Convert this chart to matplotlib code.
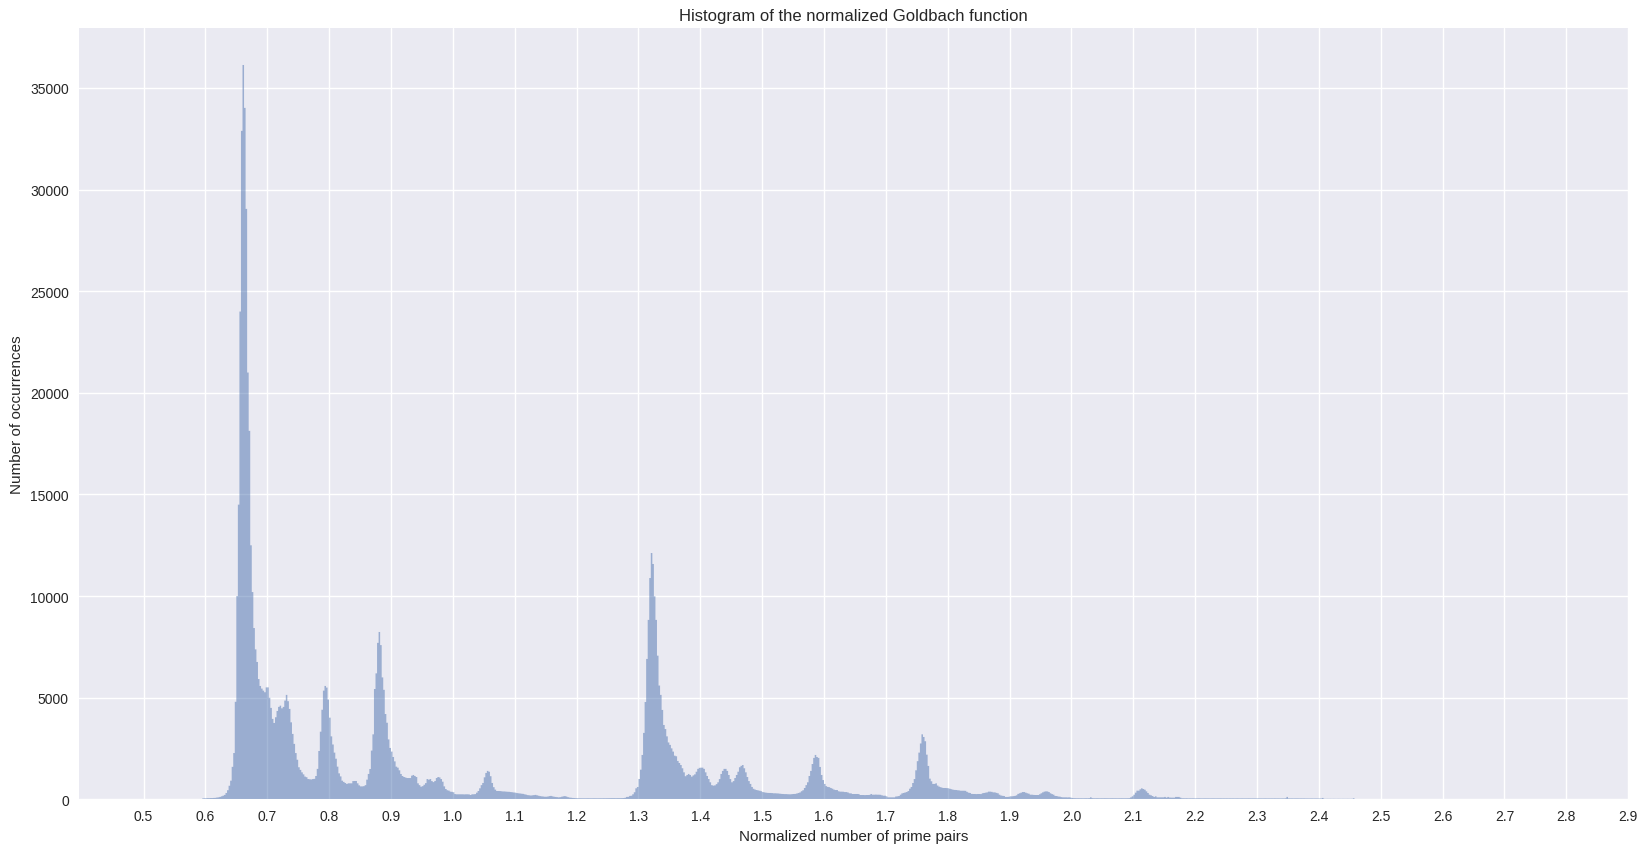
import numpy as np
import matplotlib
matplotlib.use("Agg")
import matplotlib.pyplot as plt
from matplotlib.ticker import FormatStrFormatter

# ==============================
# DATA (bin counts, bin width 0.0025 from 0.595)
# ==============================

BIN_START = 0.595
BIN_WIDTH = 0.0025

seg_a = [50, 55, 55, 60, 60, 65, 65, 70, 75, 90,
         100, 120, 150, 180, 220, 315, 450, 670, 920, 1600,
         2280, 4800, 10000, 14500, 24000, 32890, 36130, 34020, 29050, 21000,
         18130, 12500, 10200, 8430, 7380, 6760, 5920, 5580, 5450, 5350]
seg_b = [5270, 5510, 5510, 5000, 4500, 3960, 3760, 4040, 4350, 4550,
         4610, 4480, 4550, 4860, 5140, 4830, 4450, 3790, 3220, 2730,
         2280, 1950, 1580, 1450, 1330, 1230, 1120, 1090, 1000, 990,
         980, 1000, 1010, 1150, 1500, 2380, 3330, 4410, 5350, 5580]
seg_c = [5500, 4910, 4020, 3100, 2700, 2300, 2000, 1610, 1280, 1130,
         920, 860, 807, 760, 790, 790, 790, 900, 905, 905,
         790, 690, 640, 640, 650, 700, 970, 1250, 1495, 2400,
         3200, 5430, 6200, 7700, 8235, 7590, 6000, 5390, 4200, 3770]
seg_d = [2950, 2530, 2350, 2085, 1870, 1610, 1560, 1430, 1250, 1150,
         1100, 1075, 1050, 1050, 1050, 1165, 1200, 1150, 1100, 790,
         700, 625, 650, 720, 800, 1000, 970, 1000, 900, 850,
         905, 1050, 1100, 1080, 1000, 870, 640, 510, 450, 430]
seg_e = [380, 370, 350, 260, 250, 250, 250, 250, 250, 245,
         250, 250, 245, 215, 250, 250, 260, 330, 413, 545,
         700, 807, 1085, 1300, 1400, 1360, 1140, 807, 600, 480,
         413, 413, 410, 400, 390, 390, 380, 375, 370, 360]
seg_f = [350, 340, 330, 310, 300, 290, 280, 270, 250, 230,
         210, 200, 190, 200, 210, 220, 200, 180, 160, 150,
         140, 130, 130, 140, 160, 170, 150, 130, 120, 110,
         100, 110, 130, 150, 160, 140, 110, 90, 80, 70]
seg_g = [65, 60, 58, 55, 55, 54, 54, 53, 54, 55,
         54, 53, 54, 55, 54, 53, 54, 55, 54, 56,
         55, 56, 57, 58, 60, 60, 60, 58, 60, 60,
         60, 62, 65, 80, 120, 125, 170, 180, 250, 350]
seg_h = [545, 610, 1003, 1460, 2185, 3270, 4790, 6910, 8830, 10890,
         12120, 11580, 9990, 8830, 7070, 5600, 5140, 4400, 3660, 3460,
         3100, 2800, 2680, 2510, 2350, 2150, 2120, 1890, 1790, 1690,
         1530, 1330, 1140, 1200, 1250, 1200, 1120, 1180, 1230, 1360]
seg_i = [1500, 1550, 1560, 1560, 1500, 1330, 1150, 1000, 840, 700,
         675, 690, 750, 840, 1000, 1250, 1400, 1500, 1500, 1400,
         1200, 1000, 840, 900, 1050, 1200, 1360, 1580, 1650, 1690,
         1530, 1330, 1100, 900, 760, 610, 520, 480, 460, 440]
seg_j = [425, 400, 360, 345, 330, 320, 315, 315, 310, 300,
         300, 295, 290, 280, 270, 265, 260, 260, 255, 250,
         250, 260, 265, 270, 290, 315, 340, 400, 450, 560,
         700, 840, 1150, 1400, 1740, 2040, 2185, 2085, 2040, 1595]
seg_k = [1200, 950, 760, 650, 610, 600, 560, 525, 480, 460,
         460, 400, 380, 380, 375, 360, 360, 340, 300, 295,
         265, 265, 265, 265, 260, 215, 215, 215, 210, 215,
         215, 220, 265, 230, 230, 235, 230, 230, 225, 200]
seg_l = [180, 180, 150, 100, 100, 100, 100, 100, 140, 150,
         165, 230, 295, 315, 340, 360, 410, 525, 610, 805,
         1000, 1430, 1880, 2300, 2750, 3200, 3070, 2860, 2200, 1645,
         1020, 890, 760, 760, 790, 680, 625, 600, 570, 560]
seg_m = [560, 555, 545, 520, 500, 475, 465, 460, 450, 440,
         425, 425, 425, 420, 370, 330, 315, 270, 265, 265,
         260, 265, 265, 260, 300, 315, 330, 345, 380, 380,
         370, 345, 345, 320, 300, 230, 190, 175, 165, 120]
seg_n = [120, 125, 150, 150, 160, 170, 200, 270, 300, 330,
         360, 360, 330, 300, 280, 230, 230, 220, 215, 215,
         215, 250, 300, 345, 380, 395, 390, 360, 300, 260,
         230, 170, 165, 140, 135, 110, 100, 100, 100, 95]
seg_o = [100, 90, 70, 60, 58, 55, 56, 54, 55, 53,
         55, 56, 54, 60, 100, 60, 55, 54, 56, 55,
         53, 55, 54, 56, 55, 54, 53, 55, 56, 54,
         55, 53, 54, 55, 56, 55, 54, 55, 56, 60]
seg_p = [100, 150, 230, 330, 428, 428, 495, 545, 510, 475,
         395, 315, 230, 200, 165, 120, 150, 100, 100, 100,
         100, 100, 120, 85, 120, 90, 85, 85, 85, 120,
         120, 120, 85, 55, 55, 52, 55, 50, 52, 50]
seg_q = [52, 50, 51, 50, 52, 50, 49, 50, 51, 50,
         50, 49, 50, 51, 50, 49, 50, 50, 51, 49,
         50, 49, 50, 48, 50, 49, 50, 48, 49, 50,
         48, 49, 50, 48, 49, 48, 50, 49, 48, 49]
seg_r = [49, 48, 50, 48, 49, 48, 49, 50, 48, 49,
         48, 49, 48, 50, 48, 49, 48, 47, 49, 48,
         55, 120, 50, 48, 49, 47, 48, 49, 48, 47,
         48, 47, 48, 45, 45, 44, 45, 46, 44, 45]
seg_s = [45, 44, 45, 46, 70, 30, 28, 30, 29, 30,
         28, 30, 29, 28, 30, 29, 28, 30, 29, 28,
         30, 29, 28, 30, 55]

counts = np.array(seg_a + seg_b + seg_c + seg_d + seg_e + seg_f + seg_g
                  + seg_h + seg_i + seg_j + seg_k + seg_l + seg_m + seg_n
                  + seg_o + seg_p + seg_q + seg_r + seg_s, dtype=float)
edges = BIN_START + BIN_WIDTH * np.arange(len(counts) + 1)

# ==============================
# PLOT
# ==============================

plt.style.use("seaborn-v0_8")

fig = plt.figure(figsize=(16.47, 8.53), dpi=100)
ax = fig.add_axes([0.0477, 0.0617, 0.9409, 0.9043])

ax.stairs(counts, edges, fill=True, color="C0", alpha=0.5, linewidth=0)

ax.set_xlim(0.395, 2.9)
ax.set_ylim(0, 37950)
ax.set_xticks(np.arange(5, 30) / 10)
ax.xaxis.set_major_formatter(FormatStrFormatter("%.1f"))

ax.set_title("Histogram of the normalized Goldbach function")
ax.set_xlabel("Normalized number of prime pairs")
ax.set_ylabel("Number of occurrences")

fig.savefig("out.png", dpi=100)
